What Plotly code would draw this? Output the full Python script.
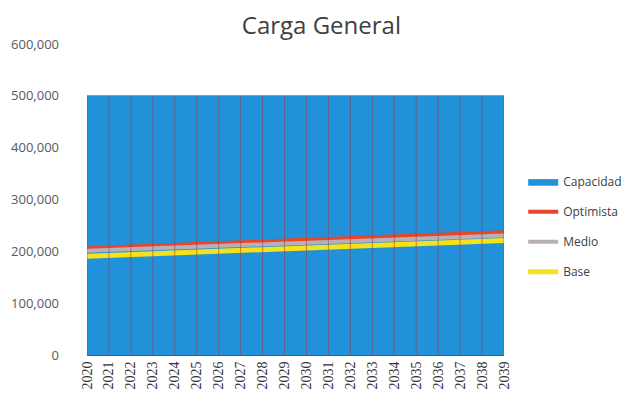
import plotly.graph_objects as go

years = list(range(2020, 2040))
capacidad = [500000] * 20
optimista = [206000, 207700, 209300, 211000, 212600, 214200, 215800, 217400, 219000, 220700,
             222300, 223900, 225500, 227100, 228800, 230400, 232000, 233700, 235300, 237000]
medio = [201000, 202500, 204100, 205700, 207200, 208800, 210300, 211900, 213500, 215000,
         216600, 218100, 219700, 221300, 222800, 224400, 226000, 227500, 229100, 230700]
base = [190500, 192100, 193700, 195300, 196900, 198500, 200100, 201700, 203300, 204900,
        206500, 208100, 209700, 211300, 212900, 214500, 216100, 217700, 219300, 221000]
y_ticks = [0, 100000, 200000, 300000, 400000, 500000, 600000]

fig = go.Figure()
fig.add_trace(go.Scatter(x=years, y=capacidad, name="Capacidad", mode="lines",
                         fill="tozeroy", fillcolor="#2192DA",
                         line=dict(color="#2192DA", width=1)))
fig.add_trace(go.Scatter(x=years, y=optimista, name="Optimista", mode="lines",
                         line=dict(color="#E8462A", width=4)))
fig.add_trace(go.Scatter(x=years, y=medio, name="Medio", mode="lines",
                         line=dict(color="#B8B0B4", width=4)))
fig.add_trace(go.Scatter(x=years, y=base, name="Base", mode="lines",
                         line=dict(color="#F5E21A", width=5)))

# vertical drop lines at each category
vx, vy = [], []
for yr, cap in zip(years, capacidad):
    vx += [yr, yr, None]
    vy += [0, cap, None]
fig.add_trace(go.Scatter(x=vx, y=vy, mode="lines", showlegend=False, hoverinfo="skip",
                         line=dict(color="rgba(150,60,70,0.55)", width=1)))

# page body has an 8px margin, so the figure is sized/offset to fit the 631x402 window
fig.update_layout(
    width=623, height=394,
    paper_bgcolor="white", plot_bgcolor="white",
    margin=dict(l=79, r=127, t=36, b=47, autoexpand=False),
    title=dict(text="Carga General", x=0.503, xanchor="center", y=0.955, yanchor="middle",
               font=dict(family="Open Sans, sans-serif", size=24, color="#404040")),
    font=dict(family="Open Sans, sans-serif", color="#595959"),
    legend=dict(x=1.046, xanchor="left", y=0.604, yanchor="top",
                font=dict(size=12, color="#404040"),
                tracegroupgap=11, traceorder="grouped", itemwidth=30,
                bgcolor="rgba(0,0,0,0)"),
    showlegend=True,
)
for i, tr in enumerate(fig.data[:4]):
    tr.legendgroup = f"g{i}"

fig.update_xaxes(range=[2020, 2039], tickmode="array", tickvals=years,
                 ticktext=[str(y) for y in years], tickangle=-90, automargin=False,
                 tickfont=dict(family="Liberation Serif, serif", size=14, color="#333333"),
                 showgrid=False, zeroline=False, showline=True, linecolor="#555555",
                 linewidth=1, ticks="")
fig.update_yaxes(range=[0, 600000], tickvals=y_ticks, tickformat=",", automargin=False,
                 tickfont=dict(size=13, color="#595959"),
                 showgrid=False, zeroline=False, showline=False, ticks="",
                 ticklabelstandoff=27)

fig.write_html("out.html")
